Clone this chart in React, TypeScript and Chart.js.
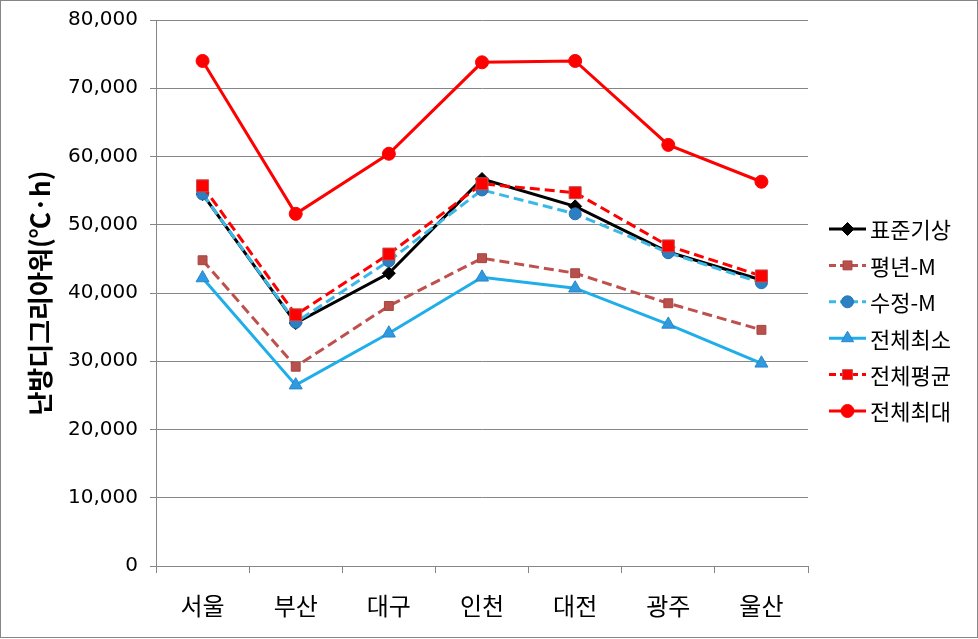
import React, { useEffect, useRef } from "react";
import { Chart, registerables } from "chart.js";

Chart.register(...registerables);

const categories = ["서울", "부산", "대구", "인천", "대전", "광주", "울산"];
const seriesNames = ["표준기상", "평년-M", "수정-M", "전체최소", "전체평균", "전체최대"];
const standardWeather = [54500, 35600, 42900, 56700, 52700, 46000, 41900];
const normalM = [44800, 29200, 38100, 45100, 42900, 38500, 34600];
const correctedM = [54500, 35700, 44700, 55100, 51600, 45900, 41500];
const overallMin = [42200, 26500, 34100, 42300, 40700, 35400, 29700];
const overallAvg = [55700, 36800, 45700, 56000, 54700, 46900, 42500];
const overallMax = [74000, 51600, 60400, 73800, 74000, 61700, 56300];
const yTitle = "난방디그리아워(℃·h)";

const styles = [
  { line: "#000000", fill: "#000000", border: "#000000", dash: [] as number[], style: "rectRot", r: 6.5, order: 5 },
  { line: "#BE504D", fill: "#B8504C", border: "#A84440", dash: [10, 5], style: "rect", r: 6.3, order: 4 },
  { line: "#3CB8E6", fill: "#2B7FC3", border: "#2A6FAE", dash: [10, 5], style: "circle", r: 6, order: 3 },
  { line: "#1FAEEA", fill: "#2E9BE0", border: "#2A84C8", dash: [] as number[], style: "triangle", r: 7.5, order: 2 },
  { line: "#FF0000", fill: "#FF0000", border: "#C0504D", dash: [10, 5], style: "rect", r: 8.5, order: 1 },
  { line: "#FF0000", fill: "#FF0000", border: "#FF0000", dash: [] as number[], style: "circle", r: 6.5, order: 0 },
];

const allValues = [standardWeather, normalM, correctedM, overallMin, overallAvg, overallMax];

function drawMarker(ctx: CanvasRenderingContext2D, style: string, r: number, x: number, y: number, fill: string, border: string) {
  ctx.save();
  ctx.fillStyle = fill;
  ctx.strokeStyle = border;
  ctx.lineWidth = 1;
  ctx.setLineDash([]);
  ctx.beginPath();
  if (style === "circle") {
    ctx.arc(x, y, r, 0, Math.PI * 2);
  } else if (style === "rect") {
    const s = r * Math.SQRT1_2;
    ctx.rect(x - s, y - s, 2 * s, 2 * s);
  } else if (style === "rectRot") {
    ctx.moveTo(x, y - r);
    ctx.lineTo(x + r, y);
    ctx.lineTo(x, y + r);
    ctx.lineTo(x - r, y);
    ctx.closePath();
  } else if (style === "triangle") {
    for (let k = 0; k < 3; k++) {
      const a = -Math.PI / 2 + (k * 2 * Math.PI) / 3;
      const px = x + Math.cos(a) * r;
      const py = y + Math.sin(a) * r;
      if (k === 0) ctx.moveTo(px, py);
      else ctx.lineTo(px, py);
    }
    ctx.closePath();
  }
  ctx.fill();
  ctx.stroke();
  ctx.restore();
}

export default function App() {
  const ref = useRef<HTMLCanvasElement | null>(null);

  useEffect(() => {
    document.body.style.margin = "0";
    const canvas = ref.current;
    if (!canvas) return;

    const extras = {
      id: "extras",
      afterDraw(chart: any) {
        const ctx = chart.ctx as CanvasRenderingContext2D;
        ctx.save();
        ctx.strokeStyle = "#868686";
        ctx.lineWidth = 1;
        ctx.strokeRect(0.5, 0.5, 977, 637);
        ctx.translate(40, 293);
        ctx.rotate(-Math.PI / 2);
        ctx.fillStyle = "#000";
        ctx.font = "bold 26px 'Noto Sans CJK KR'";
        ctx.textAlign = "center";
        ctx.textBaseline = "middle";
        ctx.fillText(yTitle, 0, 0);
        ctx.restore();

        ctx.save();
        seriesNames.forEach((name, i) => {
          const s = styles[i];
          const y = 229 + i * 36.4;
          ctx.strokeStyle = s.line;
          ctx.lineWidth = 3;
          ctx.setLineDash(s.dash.length ? [7, 4] : []);
          ctx.beginPath();
          ctx.moveTo(829, y);
          ctx.lineTo(866, y);
          ctx.stroke();
          ctx.setLineDash([]);
          drawMarker(ctx, s.style, Math.min(s.r, 7), 847.5, y, s.fill, s.border);
          ctx.fillStyle = "#000";
          ctx.font = "22px 'Noto Sans CJK KR'";
          ctx.textAlign = "left";
          ctx.textBaseline = "middle";
          ctx.fillText(name, 870, y + 1);
        });
        ctx.restore();
      },
    };

    const chart = new Chart(canvas, {
      type: "line",
      data: {
        labels: categories,
        datasets: seriesNames.map((name, i) => ({
          label: name,
          data: allValues[i],
          borderColor: styles[i].line,
          backgroundColor: styles[i].fill,
          pointBackgroundColor: styles[i].fill,
          pointBorderColor: styles[i].border,
          pointBorderWidth: 1,
          borderWidth: 3,
          borderDash: styles[i].dash,
          pointStyle: styles[i].style as any,
          pointRadius: styles[i].r,
          tension: 0,
          order: styles[i].order,
        })),
      },
      options: {
        responsive: false,
        animation: false,
        layout: { padding: { left: 0, top: 20, right: 170, bottom: 0 } },
        plugins: {
          legend: { display: false },
          tooltip: { enabled: false },
        },
        scales: {
          x: {
            offset: true,
            grid: {
              offset: true,
              drawOnChartArea: false,
              drawTicks: true,
              tickLength: 7,
              color: "#868686",
            },
            border: { display: true, color: "#868686", width: 1 },
            ticks: {
              color: "#000",
              font: { family: "'Noto Sans CJK KR'", size: 24 },
              padding: 18,
              maxRotation: 0,
            },
            afterFit(scale: any) {
              scale.height = 73;
              scale.paddingLeft = 0;
              scale.paddingRight = 0;
            },
          },
          y: {
            min: 0,
            max: 80000,
            ticks: {
              stepSize: 10000,
              color: "#000",
              font: { family: "'DejaVu Sans'", size: 20 },
              padding: 12,
              callback: (v: any) => Number(v).toLocaleString("en-US"),
            },
            grid: {
              color: "#868686",
              drawTicks: true,
              tickLength: 6,
            },
            border: { display: true, color: "#868686", width: 1 },
            afterFit(scale: any) {
              scale.width = 156;
              scale.paddingTop = 0;
              scale.paddingBottom = 0;
            },
          },
        },
      },
      plugins: [extras],
    });

    return () => chart.destroy();
  }, []);

  return <canvas ref={ref} width={978} height={639} style={{ display: "block" }} />;
}
